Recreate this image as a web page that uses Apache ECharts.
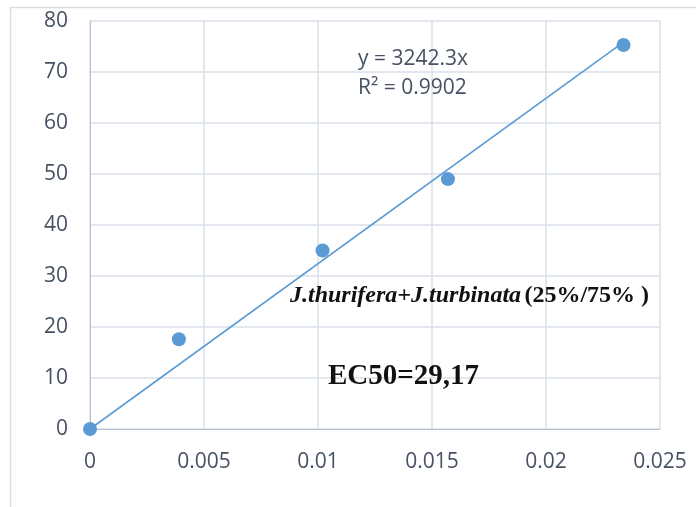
<!DOCTYPE html>
<html>
<head>
<meta charset="utf-8">
<script src="https://cdn.jsdelivr.net/npm/echarts@6/dist/echarts.min.js"></script>
<style>
  html, body { margin: 0; padding: 0; background: #ffffff; }
  #chart { width: 696px; height: 507px; }
</style>
</head>
<body>
<div id="chart"></div>
<script>
// Concentration (x) vs. inhibition % (y)
const concentrations = [0, 0.0039, 0.0102, 0.0157, 0.0234];
const inhibition = [0, 17.6, 35.0, 49.0, 75.3];

// Linear trendline through the origin: y = slope * x
const slope = 3242.3;
const rSquared = '0.9902';

const xTicks = ['0', '0.005', '0.01', '0.015', '0.02', '0.025'];
const yTicks = ['0', '10', '20', '30', '40', '50', '60', '70', '80'];

const pointData = concentrations.map((x, i) => [x, inhibition[i]]);
const xLast = concentrations[concentrations.length - 1];
const trendData = [[0, 0], [xLast, slope * xLast]];

const labelFont = '"Open Sans", "Liberation Sans", sans-serif';
const labelColor = '#465163';
const gridColor = '#dadfe8';
const axisColor = '#b5bfd2';

const chart = echarts.init(document.getElementById('chart'), null, { renderer: 'canvas' });

chart.setOption({
  animation: false,
  backgroundColor: '#ffffff',
  grid: { left: 90, right: 36, top: 21, bottom: 78, containLabel: false },
  xAxis: {
    type: 'value',
    min: 0,
    max: 0.025,
    interval: 0.005,
    axisLine: { show: true, lineStyle: { color: axisColor, width: 1 } },
    axisTick: { show: false },
    splitLine: { show: true, lineStyle: { color: gridColor, width: 1.5 } },
    axisLabel: {
      margin: 23,
      color: labelColor,
      fontFamily: labelFont,
      fontSize: 21,
      formatter: (v) => {
        const i = Math.round(v / 0.005);
        return xTicks[i] !== undefined ? xTicks[i] : '';
      }
    }
  },
  yAxis: {
    type: 'value',
    min: 0,
    max: 80,
    interval: 10,
    axisLine: { show: true, lineStyle: { color: axisColor, width: 1 } },
    axisTick: { show: false },
    splitLine: { show: true, lineStyle: { color: gridColor, width: 1.5 } },
    axisLabel: {
      margin: 22,
      color: labelColor,
      fontFamily: labelFont,
      fontSize: 21,
      formatter: (v) => {
        const i = Math.round(v / 10);
        return yTicks[i] !== undefined ? yTicks[i] : '';
      }
    }
  },
  series: [
    {
      name: 'trend',
      type: 'line',
      data: trendData,
      symbol: 'none',
      lineStyle: { color: '#5b9bd5', width: 1.6 },
      silent: true,
      z: 2
    },
    {
      name: 'data',
      type: 'scatter',
      data: pointData,
      symbol: 'circle',
      symbolSize: 14,
      itemStyle: { color: '#5b9bd5', opacity: 1 },
      z: 3
    }
  ],
  graphic: [
    {
      type: 'rect',
      left: 8,
      top: 5,
      shape: { width: 700, height: 520 },
      style: { fill: 'none', stroke: '#d9dde6', lineWidth: 1.5 },
      silent: true,
      z: -1
    },
    {
      type: 'text',
      left: 358,
      top: 45,
      style: {
        text: 'y = ' + slope + 'x\nR² = ' + rSquared,
        fill: '#465163',
        font: '21px "Open Sans", sans-serif',
        lineHeight: 29
      },
      z: 10
    },
    {
      type: 'text',
      left: 290,
      top: 284,
      style: {
        text: '{sp|J.thurifera+J.turbinata} {pc|(25%/75% )}',
        rich: {
          sp: { fontFamily: '"Liberation Serif", "Times New Roman", serif', fontStyle: 'italic', fontWeight: 'bold', fontSize: 24, fill: '#111111' },
          pc: { fontFamily: '"Liberation Serif", "Times New Roman", serif', fontWeight: 'bold', fontSize: 24, fill: '#111111' }
        }
      },
      z: 10
    },
    {
      type: 'text',
      left: 328,
      top: 362,
      style: {
        text: 'EC50=29,17',
        fill: '#111111',
        font: 'bold 29px "Liberation Serif", "Times New Roman", serif'
      },
      z: 10
    }
  ]
});
</script>
</body>
</html>
